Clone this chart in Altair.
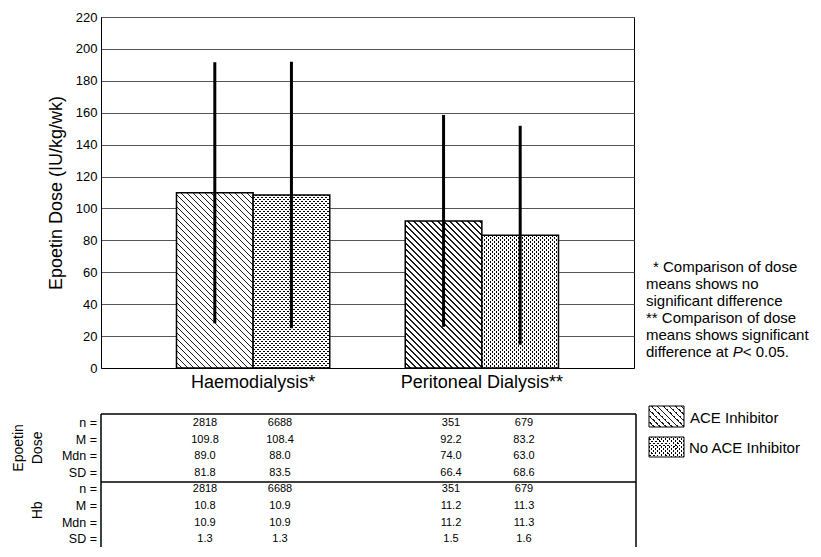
import altair as alt
import pandas as pd

# ---------------- data ----------------
categories = ["Haemodialysis*", "Peritoneal Dialysis**"]
groups = ["ACE Inhibitor", "No ACE Inhibitor"]
bar_category = ["Haemodialysis*", "Haemodialysis*", "Peritoneal Dialysis**", "Peritoneal Dialysis**"]
bar_group = ["ACE Inhibitor", "No ACE Inhibitor", "ACE Inhibitor", "No ACE Inhibitor"]
dose_n = [2818, 6688, 351, 679]
dose_mean = [109.8, 108.4, 92.2, 83.2]
dose_median = [89.0, 88.0, 74.0, 63.0]
dose_sd = [81.8, 83.5, 66.4, 68.6]
hb_n = [2818, 6688, 351, 679]
hb_mean = [10.8, 10.9, 11.2, 11.3]
hb_median = [10.9, 10.9, 11.2, 11.3]
hb_sd = [1.3, 1.3, 1.5, 1.6]
y_ticks = [0, 20, 40, 60, 80, 100, 120, 140, 160, 180, 200, 220]
stat_labels = ["n =", "M =", "Mdn =", "SD ="]
block_labels = [["Epoetin", "Dose"], ["Hb"]]
note_lines = ["* Comparison of dose", "means shows no", "significant difference",
              "** Comparison of dose", "means shows significant"]
note_last = ["difference at ", "P", "< 0.05."]
y_title = "Epoetin Dose (IU/kg/wk)"

# ---------------- layout / style ----------------
PW, PH = 533, 351
YMAX = 220
P_IN, P_OUT = 0.33, 0.33
FONT = "Liberation Sans"
step = PW / (len(categories) - P_IN + 2 * P_OUT)
BAR_W = step * (1 - P_IN) / len(groups)


def stripe(W, H, period, frac, bg, fg, kind):
    """Linear gradient that draws 45 degree stripes inside a W x H box."""
    k = (W + H) / (W * W + H * H)
    if kind == "back":
        x1, y1, x2, y2 = 0, 1, k * W, 1 - k * H
    else:
        x1, y1, x2, y2 = 0, 0, k * W, k * H
    n = (W + H) / period
    stops = []
    i = 0
    while i < n:
        a = min(i / n, 1)
        b = min((i + 1 - frac) / n, 1)
        c = min((i + 1) / n, 1)
        stops += [alt.GradientStop(offset=a, color=bg), alt.GradientStop(offset=b, color=bg),
                  alt.GradientStop(offset=b, color=fg), alt.GradientStop(offset=c, color=fg)]
        i += 1
    return alt.LinearGradient(gradient="linear", stops=stops, x1=x1, y1=y1, x2=x2, y2=y2)


CLEAR = "rgba(255,255,255,0)"
HATCH_P, HATCH_F = 6.0, 0.22
DOT_P, DOT_F = 4.0, 0.5

bars = pd.DataFrame({
    "category": bar_category,
    "group": bar_group,
    "mean": dose_mean,
    "sd": dose_sd,
    "idx": list(range(len(dose_mean))),
})
bars["low"] = bars["mean"] - bars["sd"]
bars["high"] = bars["mean"] + bars["sd"]

X = alt.X("category:N",
          scale=alt.Scale(domain=categories, paddingInner=P_IN, paddingOuter=P_OUT),
          axis=alt.Axis(title=None, labelAngle=0, labelFontSize=18, labelColor="black",
                        labelPadding=5, ticks=False, domainColor="black", grid=False,
                        labelFont=FONT))
XO = alt.XOffset("group:N", scale=alt.Scale(domain=groups, paddingInner=0, paddingOuter=0))
yscale = alt.Scale(domain=[0, YMAX], nice=False, zero=True)
yaxis = alt.Axis(values=y_ticks, grid=True, gridColor="#555555", gridWidth=1, ticks=False,
                 labelFontSize=13, labelColor="black", labelPadding=4, domainColor="black",
                 title=y_title, titleFontSize=18, titleFontWeight="normal", titleColor="black",
                 titlePadding=10, labelFont=FONT, titleFont=FONT)

layers = []
for i in range(len(dose_mean)):
    H = dose_mean[i] * PH / YMAX
    base = alt.Chart(bars).transform_filter(alt.datum.idx == i)
    enc = dict(x=X, xOffset=XO, y=alt.Y("mean:Q", scale=yscale, axis=yaxis))
    if bar_group[i] == groups[0]:
        layers.append(base.mark_bar(fill=stripe(BAR_W, H, HATCH_P, HATCH_F, "white", "#1a1a1a", "back"),
                                    stroke="black", strokeWidth=1.5).encode(**enc))
    else:
        layers.append(base.mark_bar(fill="black").encode(**enc))
        layers.append(base.mark_bar(fill=stripe(BAR_W, H, DOT_P, DOT_F, "white", CLEAR, "fwd")).encode(**enc))
        layers.append(base.mark_bar(fill=stripe(BAR_W, H, DOT_P, DOT_F, "white", CLEAR, "back")).encode(**enc))
        layers.append(base.mark_bar(fillOpacity=0, stroke="black", strokeWidth=1.5).encode(**enc))

# error bars (mean +/- SD)
layers.append(alt.Chart(bars).mark_rule(color="black", strokeWidth=3).encode(
    x=X, xOffset=XO,
    y=alt.Y("low:Q", scale=yscale, axis=yaxis),
    y2="high:Q"))


# ---------------- text helpers (pixel positions relative to the plot origin) ----------------
def text_layer(df, **kw):
    return alt.Chart(df).mark_text(font=FONT, color="black", **kw).encode(
        x=alt.X("x:Q", scale=None, axis=None),
        y=alt.Y("y:Q", scale=None, axis=None),
        text="t:N")


# statistics table
col_x = [104, 179, 350, 423]
ROW0, ROWSTEP = 406, 16.6
rows_y = [ROW0 + ROWSTEP * r for r in range(8)]
cells = []
for j in range(4):
    vals = [f"{dose_n[j]}", f"{dose_mean[j]:.1f}", f"{dose_median[j]:.1f}", f"{dose_sd[j]:.1f}",
            f"{hb_n[j]}", f"{hb_mean[j]:.1f}", f"{hb_median[j]:.1f}", f"{hb_sd[j]:.1f}"]
    for r, v in enumerate(vals):
        cells.append({"x": col_x[j], "y": rows_y[r], "t": v})
layers.append(text_layer(pd.DataFrame(cells), fontSize=11, align="center", baseline="middle"))

row_lab = [{"x": -4, "y": rows_y[r], "t": stat_labels[r % 4]} for r in range(8)]
layers.append(text_layer(pd.DataFrame(row_lab), fontSize=12.5, align="right", baseline="middle"))

mid_a = (rows_y[0] + rows_y[3]) / 2
mid_b = (rows_y[4] + rows_y[7]) / 2
blk = [{"x": -82, "y": mid_a, "t": block_labels[0][0]},
       {"x": -63, "y": mid_a, "t": block_labels[0][1]},
       {"x": -63, "y": mid_b - 4, "t": block_labels[1][0]}]
layers.append(text_layer(pd.DataFrame(blk), fontSize=14, align="center", baseline="middle", angle=270))

# table frame
one = pd.DataFrame({"d": [0]})
TL, TR, TT, TB = 0, 535, 397, 600
TM = (rows_y[3] + rows_y[4]) / 2 + 1
for (xa, xb, ya, yb) in [(TL, TR, TT, TT), (TL, TR, TM, TM), (TL, TL, TT, TB), (TR, TR, TT, TB)]:
    layers.append(alt.Chart(one).mark_rule(color="black", strokeWidth=1.5).encode(
        x=alt.value(xa), x2=alt.value(xb), y=alt.value(ya), y2=alt.value(yb)))

# notes on the right
NX, NY, NSTEP, NFS = 545, 250, 17, 15
notes = []
for r, line in enumerate(note_lines):
    notes.append({"x": NX + (7 if r == 0 else 0), "y": NY + NSTEP * r, "t": line})
w_first = 5.781 * NFS  # width of "difference at " in Arial metrics
notes.append({"x": NX, "y": NY + NSTEP * 5, "t": note_last[0]})
notes.append({"x": NX + w_first + 10.0, "y": NY + NSTEP * 5, "t": note_last[2]})
layers.append(text_layer(pd.DataFrame(notes), fontSize=NFS, align="left", baseline="middle"))
layers.append(text_layer(pd.DataFrame([{"x": NX + w_first, "y": NY + NSTEP * 5, "t": note_last[1]}]),
                         fontSize=NFS, align="left", baseline="middle", fontStyle="italic"))

# legend
SW_X, SW_X2 = 548, 583
sw = [(389, 410), (420, 440)]
layers.append(alt.Chart(one).mark_rect(
    fill=stripe(SW_X2 - SW_X, sw[0][1] - sw[0][0], HATCH_P, HATCH_F, "white", "#1a1a1a", "back"),
    stroke="black", strokeWidth=1).encode(
    x=alt.value(SW_X), x2=alt.value(SW_X2), y=alt.value(sw[0][0]), y2=alt.value(sw[0][1])))
sw_enc = dict(x=alt.value(SW_X), x2=alt.value(SW_X2), y=alt.value(sw[1][0]), y2=alt.value(sw[1][1]))
sW, sH = SW_X2 - SW_X, sw[1][1] - sw[1][0]
layers.append(alt.Chart(one).mark_rect(fill="black").encode(**sw_enc))
layers.append(alt.Chart(one).mark_rect(fill=stripe(sW, sH, DOT_P, DOT_F, "white", CLEAR, "fwd")).encode(**sw_enc))
layers.append(alt.Chart(one).mark_rect(fill=stripe(sW, sH, DOT_P, DOT_F, "white", CLEAR, "back")).encode(**sw_enc))
layers.append(alt.Chart(one).mark_rect(fillOpacity=0, stroke="black", strokeWidth=1).encode(**sw_enc))
leg = [{"x": 589, "y": 401, "t": groups[0]}, {"x": 588, "y": 431, "t": groups[1]}]
layers.append(text_layer(pd.DataFrame(leg), fontSize=15, align="left", baseline="middle"))

chart = alt.layer(*layers).properties(
    width=PW, height=PH,
    padding={"left": 93, "top": 9, "right": 176, "bottom": 179},
    autosize=alt.AutoSizeParams(type="none"),
).configure(font=FONT).configure_view(stroke="black", strokeWidth=1)

chart.save("out.html", embed_options={"renderer": "svg", "actions": False})
